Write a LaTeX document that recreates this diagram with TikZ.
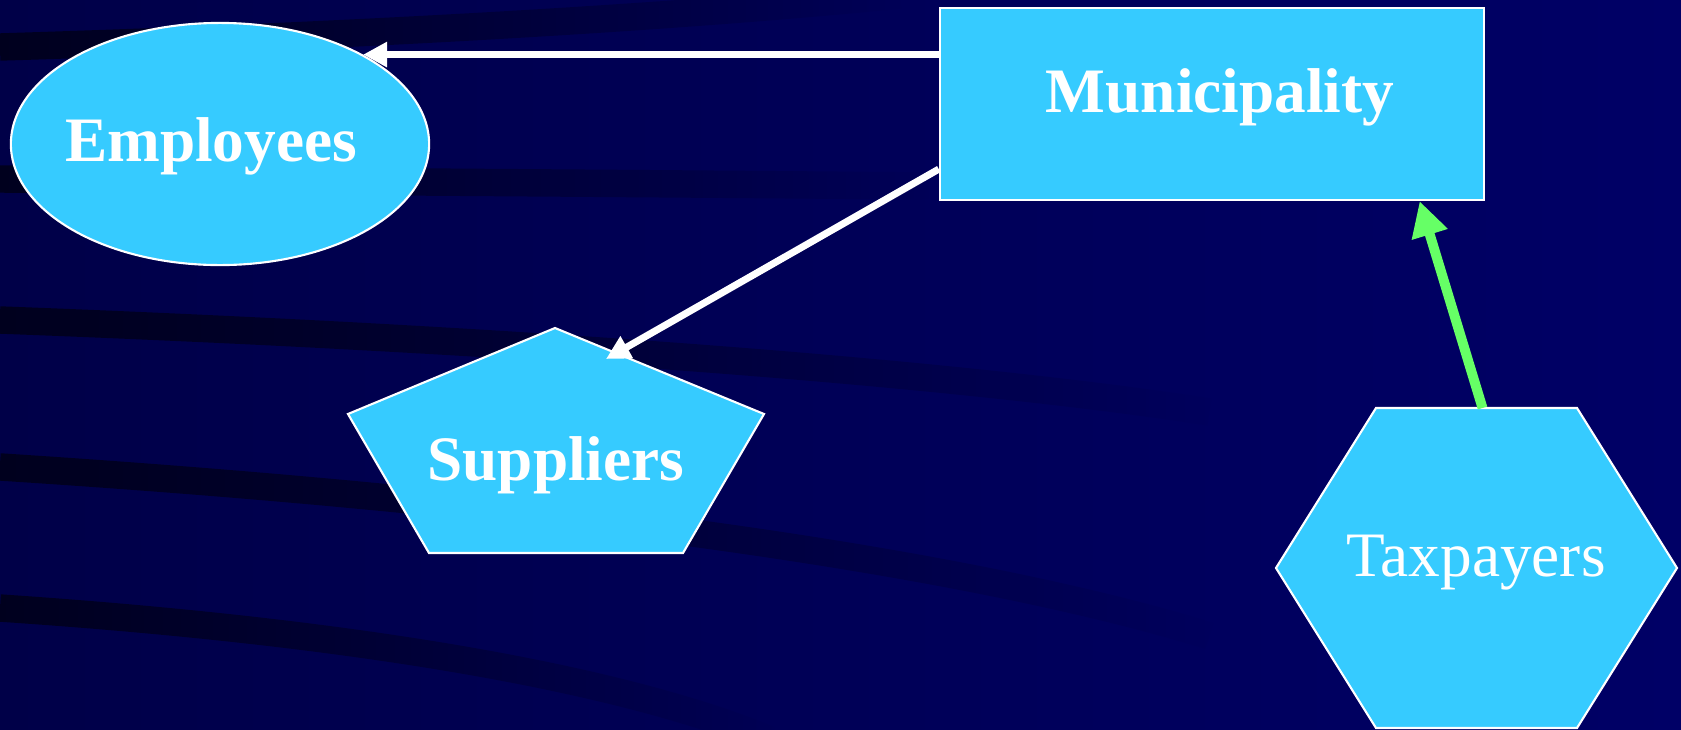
\documentclass[tikz,border=0pt]{standalone}
\usepackage{fontspec}
\setmainfont{Liberation Serif}
\usepackage{tikz}
\usetikzlibrary{arrows.meta,calc,fadings,shapes.geometric}
\definecolor{slidebgl}{RGB}{0,0,72}
\definecolor{slidebgr}{RGB}{0,0,102}
\definecolor{stripe}{RGB}{0,0,30}
\definecolor{shapefill}{RGB}{54,203,255}
\definecolor{taxgreen}{RGB}{102,255,102}
\tikzfading[name=stripefade, left color=transparent!0, middle color=transparent!15, right color=transparent!100]

\begin{document}
\begin{tikzpicture}[x=0.01cm,y=-0.01cm,
  shapebox/.style={draw=white,line width=0.6pt,fill=shapefill},
  boldlabel/.style={anchor=base,text=white,font=\fontsize{18}{21}\selectfont\bfseries,inner sep=0pt},
  plainlabel/.style={anchor=base,text=white,font=\fontsize{18}{21}\selectfont,inner sep=0pt},
  bgstripe/.style={draw=stripe,line width=7.8pt,path fading=stripefade},
  flow/.style={draw=white,line width=2pt,-{Triangle[length=6.8pt,width=6.8pt]}},
  taxflow/.style={draw=taxgreen,line width=2.8pt,-{Triangle[length=9.9pt,width=10pt]}}]
\useasboundingbox (0,0) rectangle (1681,730);
\shade[left color=slidebgl,right color=slidebgr] (0,0) rectangle (1681,730);
% stripes
\draw[bgstripe] (0,47) .. controls (389,35) and (700,15) .. (900,-5);
\draw[bgstripe] (0,179) .. controls (430,182) and (700,184) .. (930,186);
\draw[bgstripe] (0,320) .. controls (663,345) and (1036,385) .. (1210,412);
\draw[bgstripe] (0,467) .. controls (746,515) and (1078,595) .. (1210,636);
\draw[bgstripe] (0,608) .. controls (415,636) and (650,690) .. (770,740);
% shapes
\node[shapebox,ellipse,minimum width=4.18cm,minimum height=2.42cm,inner sep=0pt] (employees) at (220,144) {};
\node[shapebox,rectangle,minimum width=5.44cm,minimum height=1.92cm,inner sep=0pt] (muni) at (1212,104) {};
\coordinate (s1) at (555,328);
\coordinate (s2) at (764,414);
\coordinate (s3) at (683,553);
\coordinate (s4) at (429,553);
\coordinate (s5) at (348,414);
\draw[shapebox] (s1) -- (s2) -- (s3) -- (s4) -- (s5) -- cycle;
\coordinate (t1) at (1376,408);
\coordinate (t2) at (1577,408);
\coordinate (t3) at (1677,568);
\coordinate (t4) at (1577,728);
\coordinate (t5) at (1376,728);
\coordinate (t6) at (1276,568);
\draw[shapebox] (t1) -- (t2) -- (t3) -- (t4) -- (t5) -- (t6) -- cycle;
% labels
\node[boldlabel] (emplabel) at (211,161) {Employees};
\node[boldlabel] (munilabel) at (1220,112) {Municipality};
\node[boldlabel] (suplabel) at (556,480) {Suppliers};
\node[plainlabel] (taxlabel) at (1476,576) {Taxpayers};
% connectors
\coordinate (suptip) at (606,359);
\draw[flow] (muni.west |- employees.32) -- (employees.32);
\draw[flow] ($(muni.south west)+(0,-32)$) -- (suptip);
\draw[taxflow] ($(t1)!0.53!(t2)$) -- ($(muni.south west)!0.88!(muni.south east)$);
\end{tikzpicture}
\end{document}
